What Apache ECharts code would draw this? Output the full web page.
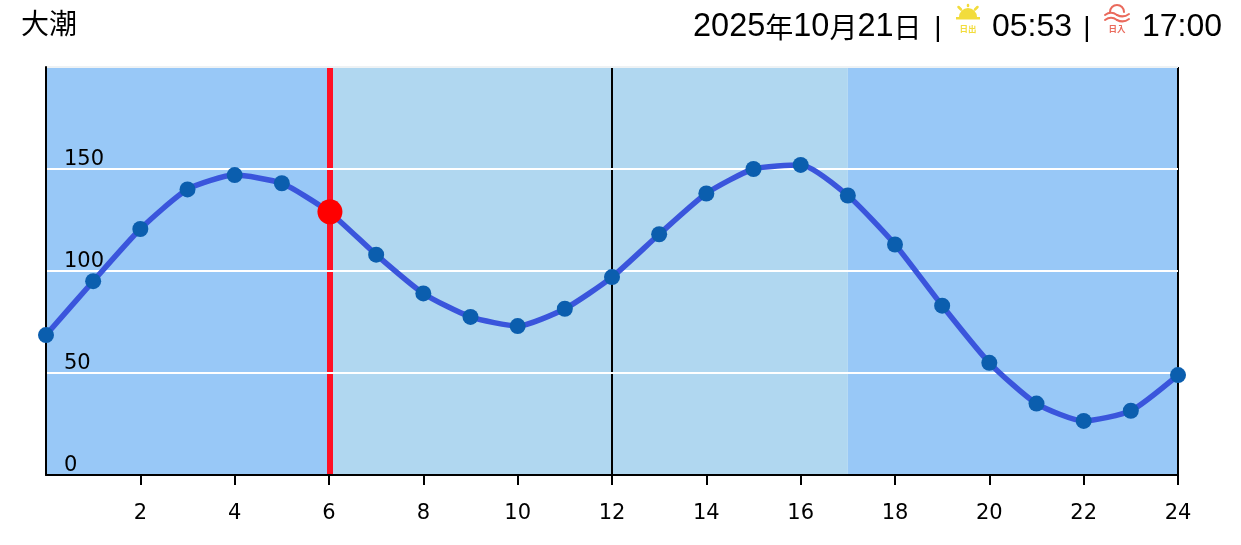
<!DOCTYPE html>
<html><head><meta charset="utf-8">
<script src="https://cdn.jsdelivr.net/npm/echarts@6/dist/echarts.min.js"></script>
<style>html,body{margin:0;padding:0;background:#fff}#c{width:1241px;height:545px}</style>
</head><body><div id="c"></div>
<script>
const hours = [0,1,2,3,4,5,6,7,8,9,10,11,12,13,14,15,16,17,18,19,20,21,22,23,24];
const tide = [68.6,95,120.6,140,147,143,129,108,89,77.5,73,81.5,97,118,138,150,152,137,113,83,55,35,26.5,31.5,49];
const xTicks = [2,4,6,8,10,12,14,16,18,20,22,24];
const yTicks = [0,50,100,150];
const nowHour = 6.02, nowLevel = 129;
const sunriseHour = 6, sunsetHour = 17;
const tideName = '大潮', dateText = '{d|2025}{c|年}{d|10}{c|月}{d|21}{c|日}', sep = '|', sunriseText = '05:53', sunsetText = '17:00';
const lineFont = '"DejaVu Sans"';
const headFont = '"Liberation Sans","Noto Sans CJK JP"';
const DARK = '#98c8f7', LIGHT = '#b0d7f0';

const chart = echarts.init(document.getElementById('c'), null, {renderer:'canvas'});
const txt = (x,y,t,size,fill,align,weight) => ({type:'text',x,y,style:{text:t,font:(weight||'normal')+' '+size+'px '+headFont,fill,align:align||'left',verticalAlign:'middle'}});
const sun = '#f2dc3c', red = '#ea6a5c';
const stroke = (c,w) => ({stroke:c,lineWidth:w,fill:null,lineCap:'round'});
const wave = (x,y,c) => [
  {type:'bezierCurve',shape:{x1:x,y1:y,cpx1:x+4,cpy1:y-3,cpx2:x+8,cpy2:y-3,x2:x+12,y2:y},style:stroke(c,2)},
  {type:'bezierCurve',shape:{x1:x+12,y1:y,cpx1:x+16,cpy1:y+2,cpx2:x+20,cpy2:y+2,x2:x+24,y2:y-1},style:stroke(c,2)}
];
chart.setOption({
  animation:false,
  grid:{left:46,right:63,top:67,bottom:70,containLabel:false},
  xAxis:{type:'value',min:0,max:24,interval:2,
    splitLine:{show:false},
    axisLine:{lineStyle:{color:'#000',width:2}},
    axisTick:{customValues:xTicks,length:10,lineStyle:{color:'#000',width:2}},
    axisLabel:{customValues:xTicks,color:'#000',fontFamily:lineFont,fontSize:21,margin:28}},
  yAxis:{type:'value',min:0,max:200,interval:50,
    axisLine:{show:true,lineStyle:{color:'#000',width:2}},
    axisTick:{show:false},
    splitLine:{show:true,lineStyle:{color:['#fff','#fff','#fff','#fff','#eef2f4'],width:2}},
    axisLabel:{inside:true,color:'#000',fontFamily:lineFont,fontSize:21,margin:18,verticalAlign:'bottom',align:'left',lineHeight:18,
      customValues:yTicks}},
  series:[
    {type:'line',silent:true,data:[],z:-1,
      markArea:{silent:true,z:-2,label:{show:false},data:[
        [{xAxis:0,itemStyle:{color:DARK,opacity:1}},{xAxis:sunriseHour}],
        [{xAxis:sunriseHour,itemStyle:{color:LIGHT,opacity:1}},{xAxis:sunsetHour}],
        [{xAxis:sunsetHour,itemStyle:{color:DARK,opacity:1}},{xAxis:24}]
      ]},
      markLine:{silent:true,z:-1,symbol:'none',label:{show:false},animation:false,data:[
        {xAxis:nowHour,lineStyle:{color:'#ff1025',width:6,type:'solid'}},
        {xAxis:12,lineStyle:{color:'#000',width:2,type:'solid'}},
        {xAxis:24,lineStyle:{color:'#000',width:2,type:'solid'}}
      ]}},
    {type:'line',data:hours.map((h,i)=>[h,tide[i]]),smooth:0.2,clip:false,z:3,
      lineStyle:{color:'#3a55dc',width:5.5},
      symbol:'circle',symbolSize:16,showSymbol:true,showAllSymbol:true,
      itemStyle:{color:'#0b5eae'}},
    {type:'scatter',data:[[nowHour,nowLevel]],symbolSize:25,z:4,clip:false,itemStyle:{color:'#ff0000',opacity:1}}
  ],
  graphic:[
    txt(21,26,tideName,28,'#000'),
    {type:'text',x:693,y:27,style:{text:dateText,verticalAlign:'middle',align:'left',
      rich:{d:{fontFamily:'"Liberation Sans"',fontSize:32.5,fill:'#000',color:'#000'},
            c:{fontFamily:'"Noto Sans CJK JP"',fontSize:28,fill:'#000',color:'#000'}}}},
    txt(938,28,sep,28,'#000','center'),
    txt(992,27,sunriseText,32,'#000'),
    txt(1087,28,sep,28,'#000','center'),
    txt(1142,27,sunsetText,32,'#000'),
    // sunrise icon
    {type:'sector',shape:{cx:968,cy:17,r:9,r0:0,startAngle:Math.PI,endAngle:2*Math.PI},style:{fill:sun}},
    {type:'rect',shape:{x:956,y:17,width:24,height:2.5},style:{fill:sun}},
    {type:'line',shape:{x1:968,y1:5,x2:968,y2:6},style:stroke(sun,2.5)},
    {type:'line',shape:{x1:958.5,y1:7,x2:961,y2:9.5},style:stroke(sun,2.5)},
    {type:'line',shape:{x1:977.5,y1:7,x2:975,y2:9.5},style:stroke(sun,2.5)},
    txt(968,30,'日出',8.5,sun,'center','bold'),
    // sunset icon
    {type:'arc',shape:{cx:1117,cy:12,r:7,startAngle:Math.PI,endAngle:2*Math.PI},style:stroke(red,2)},
    ...wave(1105,15,red),
    ...wave(1105,20,red),
    txt(1117,30,'日入',8.5,red,'center','bold')
  ]
});
</script></body></html>
